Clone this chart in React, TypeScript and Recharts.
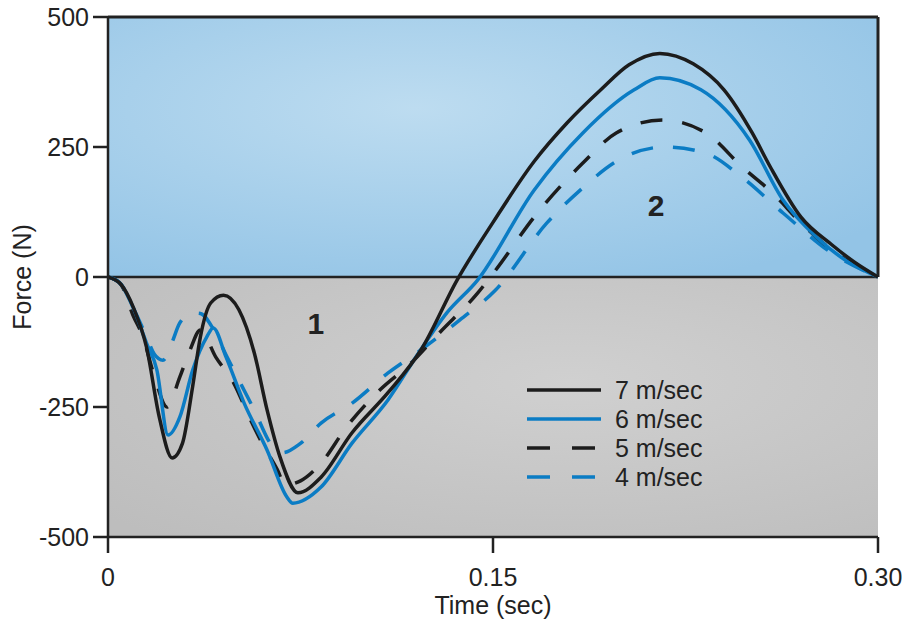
import { LineChart, Line, XAxis, YAxis, ReferenceArea, ReferenceLine, ReferenceDot } from 'recharts';

// 7 m/sec (solid black)
const t7 = [0, 0.005, 0.010, 0.015, 0.020, 0.025, 0.029, 0.033, 0.036, 0.040, 0.045, 0.051, 0.057, 0.062, 0.067, 0.074, 0.083, 0.095, 0.109, 0.122, 0.136, 0.150, 0.166, 0.179, 0.192, 0.203, 0.215, 0.228, 0.240, 0.251, 0.258, 0.270, 0.282, 0.291, 0.300];
const f7 = [0, -14, -60, -135, -270, -348, -320, -210, -115, -50, -35, -63, -146, -256, -346, -415, -385, -300, -223, -140, -6, 105, 222, 297, 360, 408, 430, 410, 360, 277, 212, 115, 62, 28, 0];

// 6 m/sec (solid blue)
const t6 = [0, 0.0047, 0.0097, 0.015, 0.019, 0.0234, 0.028, 0.033, 0.0385, 0.041, 0.046, 0.053, 0.062, 0.0697, 0.072, 0.083, 0.095, 0.109, 0.121, 0.132, 0.144, 0.166, 0.185, 0.205, 0.215, 0.231, 0.250, 0.263, 0.276, 0.288, 0.300];
const f6 = [0, -12, -58, -127, -178, -304, -269, -179, -115, -98, -154, -242, -333, -423, -435, -404, -320, -237, -146, -69, -6, 167, 277, 360, 383, 360, 263, 148, 77, 30, 0];

// 5 m/sec (dashed black)
const t5 = [0, 0.005, 0.0097, 0.0136, 0.018, 0.023, 0.028, 0.032, 0.036, 0.042, 0.049, 0.055, 0.060, 0.066, 0.069, 0.075, 0.083, 0.093, 0.106, 0.118, 0.129, 0.144, 0.151, 0.166, 0.185, 0.198, 0.216, 0.233, 0.247, 0.259, 0.270, 0.282, 0.300];
const f5 = [0, -14, -73, -115, -190, -250, -192, -140, -102, -154, -204, -269, -319, -371, -400, -392, -358, -288, -217, -166, -108, -31, 13, 115, 219, 277, 302, 277, 212, 161, 104, 52, 0];

// 4 m/sec (dashed blue)
const t4 = [0, 0.0047, 0.0097, 0.015, 0.018, 0.0214, 0.025, 0.028, 0.033, 0.036, 0.041, 0.046, 0.057, 0.064, 0.068, 0.075, 0.083, 0.095, 0.109, 0.122, 0.137, 0.151, 0.171, 0.184, 0.199, 0.217, 0.233, 0.247, 0.263, 0.282, 0.300];
const f4 = [0, -12, -58, -115, -148, -160, -125, -88, -69, -70, -100, -150, -256, -325, -338, -320, -281, -243, -185, -140, -83, -25, 104, 167, 225, 250, 238, 192, 123, 46, 0];

const xTicks = [0, 0.15, 0.3];
const yTicks = [-500, -250, 0, 250, 500];

const legendItems = [
  { label: '7 m/sec', color: '#1c1c1c', dash: undefined },
  { label: '6 m/sec', color: '#0b7cc4', dash: undefined },
  { label: '5 m/sec', color: '#1c1c1c', dash: '23 22' },
  { label: '4 m/sec', color: '#0b7cc4', dash: '23 22' },
];

const FONT = '"Liberation Sans", Arial, Helvetica, sans-serif';
const INK = '#222';

const zip = (ts: number[], fs: number[]) => ts.map((t, i) => ({ t, f: fs[i] }));

// legend drawn over the plot, recharts' Legend would eat plot height
function SpeedLegend() {
  return (
    <svg width={200} height={120} style={{ position: 'absolute', left: 527, top: 376, overflow: 'visible' }}>
      {legendItems.map((it, i) => {
        const y = 14 + i * 29;
        return (
          <g key={it.label}>
            <line x1={0} x2={74} y1={y} y2={y} stroke={it.color} strokeWidth={3.5} strokeDasharray={it.dash} />
            <text x={88} y={y} dominantBaseline="central" fontSize={25} fill={INK} fontFamily={FONT}>
              {it.label}
            </text>
          </g>
        );
      })}
    </svg>
  );
}

export default function App() {
  const tick = { fill: INK, fontSize: 25, fontFamily: FONT };
  return (
    <div style={{ position: 'absolute', left: 0, top: 0, width: 902, height: 625, background: '#fff', fontFamily: FONT }}>
      <LineChart width={902} height={625} margin={{ top: 17, right: 24, bottom: 0, left: 0 }}>
        <defs>
          <radialGradient id="blueBg" cx="0.4" cy="0.35" r="0.75">
            <stop offset="0%" stopColor="#bddcf0" />
            <stop offset="100%" stopColor="#93c4e6" />
          </radialGradient>
          <radialGradient id="grayBg" cx="0.6" cy="0.4" r="0.8">
            <stop offset="0%" stopColor="#d0d0d0" />
            <stop offset="100%" stopColor="#bdbdbd" />
          </radialGradient>
        </defs>
        <ReferenceArea x1={0} x2={0.3} y1={0} y2={500} fill="url(#blueBg)" fillOpacity={1} stroke="none" />
        <ReferenceArea x1={0} x2={0.3} y1={-500} y2={0} fill="url(#grayBg)" fillOpacity={1} stroke="none" />
        <ReferenceLine y={0} stroke={INK} strokeWidth={2.5} />
        <ReferenceLine y={500} stroke={INK} strokeWidth={3} />
        <ReferenceLine segment={[{ x: 0.3, y: 0 }, { x: 0.3, y: 500 }]} stroke={INK} strokeWidth={3} />
        <XAxis
          dataKey="t"
          type="number"
          domain={[0, 0.3]}
          ticks={xTicks}
          allowDataOverflow
          height={88}
          tick={tick}
          tickSize={16}
          tickMargin={15}
          tickFormatter={(v) => (v === 0 ? '0' : v.toFixed(2))}
          axisLine={{ stroke: INK, strokeWidth: 2.5 }}
          tickLine={{ stroke: INK, strokeWidth: 2.5 }}
          label={{ value: 'Time (sec)', position: 'insideBottom', offset: 11, fill: INK, fontSize: 25, fontFamily: FONT }}
        />
        <YAxis
          type="number"
          domain={[-500, 500]}
          ticks={yTicks}
          allowDataOverflow
          width={108}
          tick={tick}
          tickSize={15}
          tickMargin={4}
          axisLine={{ stroke: INK, strokeWidth: 2.5 }}
          tickLine={{ stroke: INK, strokeWidth: 2.5 }}
          label={{ value: 'Force (N)', angle: -90, position: 'insideLeft', offset: 22, fill: INK, fontSize: 25, fontFamily: FONT, style: { textAnchor: 'middle' } }}
        />
        <Line data={zip(t4, f4)} dataKey="f" type="monotone" stroke="#0b7cc4" strokeWidth={3.5} strokeDasharray="22 20" dot={false} isAnimationActive={false} />
        <Line data={zip(t5, f5)} dataKey="f" type="monotone" stroke="#1c1c1c" strokeWidth={3.5} strokeDasharray="22 20" dot={false} isAnimationActive={false} />
        <Line data={zip(t6, f6)} dataKey="f" type="monotone" stroke="#0b7cc4" strokeWidth={3.5} dot={false} isAnimationActive={false} />
        <Line data={zip(t7, f7)} dataKey="f" type="monotone" stroke="#1c1c1c" strokeWidth={3.5} dot={false} isAnimationActive={false} />
        <ReferenceDot x={0.081} y={-90} r={0} fill="none" stroke="none" label={{ value: '1', position: 'center', fontSize: 30, fontWeight: 'bold', fill: INK, fontFamily: FONT }} />
        <ReferenceDot x={0.2135} y={138} r={0} fill="none" stroke="none" label={{ value: '2', position: 'center', fontSize: 30, fontWeight: 'bold', fill: INK, fontFamily: FONT }} />
      </LineChart>
      <SpeedLegend />
    </div>
  );
}
